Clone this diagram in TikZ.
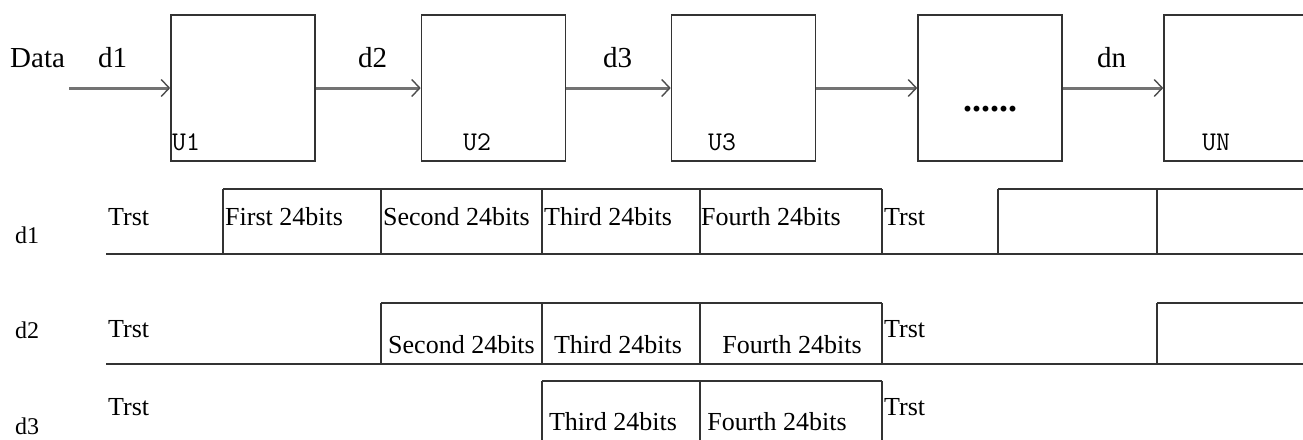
\documentclass[tikz,border=0pt]{standalone}
\usepackage{fontspec}
\setmainfont{Liberation Serif}
\usetikzlibrary{arrows.meta}
\newcommand{\lbfont}{\fontsize{26}{30}\selectfont}
\newcommand{\hdfont}{\fontsize{29}{33}\selectfont}
\newcommand{\rwfont}{\fontsize{24}{28}\selectfont}
\newcommand{\ulfont}{\fontsize{27}{30}\selectfont\ttfamily}
\tikzset{
  unitbox/.style={draw=black!80, line width=1.6pt, minimum width=144pt,
    minimum height=146pt, inner sep=0pt},
  flow/.style={draw=black!55, line width=3pt,
    -{Straight Barb[length=8pt,width=17pt,line width=1.4pt,color=black!70]}},
  wave/.style={draw=black!80, line width=1.6pt},
  lbl/.style={font=\lbfont, anchor=base west, inner sep=0pt},
  mid/.style={font=\lbfont, anchor=base, inner sep=0pt},
  hdlbl/.style={font=\hdfont, anchor=base west, inner sep=0pt},
  rowlbl/.style={font=\rwfont, anchor=base west, inner sep=0pt},
  ulbl/.style={font=\ulfont, anchor=base west, inner sep=0pt},
}

\begin{document}
\begin{tikzpicture}[x=1pt,y=-1pt]
  \useasboundingbox (0,0) rectangle (1303,439);
  \clip (0,0) rectangle (1303,439);
  % Units in a chain
  \foreach \n/\x in {u1/243, u2/493.5, u3/743.5, ud/990, un/1236} {
    \node[unitbox] (\n) at (\x,88) {};
  }
  \node[font=\bfseries\fontsize{36}{36}\selectfont, anchor=base] (dots) at (990,111) {......};
  % Unit names
  \node[ulbl] (nu1) at (172,150) {U1};
  \node[ulbl] (nu2) at (463,150) {U2};
  \node[ulbl] (nu3) at (708,150) {U3};
  \node[ulbl] (nun) at (1202,150) {UN};
  % Data flow
  \coordinate (in) at (69,88);
  \draw[flow] (in) -- (u1);
  \draw[flow] (u1) -- (u2);
  \draw[flow] (u2) -- (u3);
  \draw[flow] (u3) -- (ud);
  \draw[flow] (ud) -- (un);
  \node[hdlbl] (data) at (10,67) {Data};
  \node[hdlbl] (ld1) at (98,67) {d1};
  \node[hdlbl] (ld2) at (358,67) {d2};
  \node[hdlbl] (ld3) at (603,67) {d3};
  \node[hdlbl] (ldn) at (1097,67) {dn};

  % Timing of d1
  \draw[wave] (106,254) -- (1320,254);
  \draw[wave] (223,189) -- (882,189);
  \draw[wave] (998,189) -- (1320,189);
  \foreach \x in {223,381,542,700,882,998,1157}
    \draw[wave] (\x,189) -- (\x,254);
  \node[rowlbl] at (15,243) {d1};
  \node[lbl] at (108,225) {Trst};
  \node[lbl] at (225,225) {First 24bits};
  \node[lbl] at (383,225) {Second 24bits};
  \node[lbl] at (544,225) {Third 24bits};
  \node[lbl] at (701,225) {Fourth 24bits};
  \node[lbl] at (884,225) {Trst};

  % Timing of d2
  \draw[wave] (106,364) -- (1320,364);
  \draw[wave] (381,303) -- (882,303);
  \draw[wave] (1157,303) -- (1320,303);
  \foreach \x in {381,542,700,882,1157}
    \draw[wave] (\x,303) -- (\x,364);
  \node[rowlbl] at (15,338) {d2};
  \node[lbl] at (108,337) {Trst};
  \node[lbl] at (388,353) {Second 24bits};
  \node[mid] at (618,353) {Third 24bits};
  \node[mid] at (792,353) {Fourth 24bits};
  \node[lbl] at (884,337) {Trst};

  % Timing of d3
  \draw[wave] (542,381) -- (882,381);
  \foreach \x in {542,700,882}
    \draw[wave] (\x,381) -- (\x,450);
  \node[rowlbl] at (15,434) {d3};
  \node[lbl] at (108,415) {Trst};
  \node[mid] at (613,430) {Third 24bits};
  \node[mid] at (777,430) {Fourth 24bits};
  \node[lbl] at (884,415) {Trst};
\end{tikzpicture}
\end{document}
